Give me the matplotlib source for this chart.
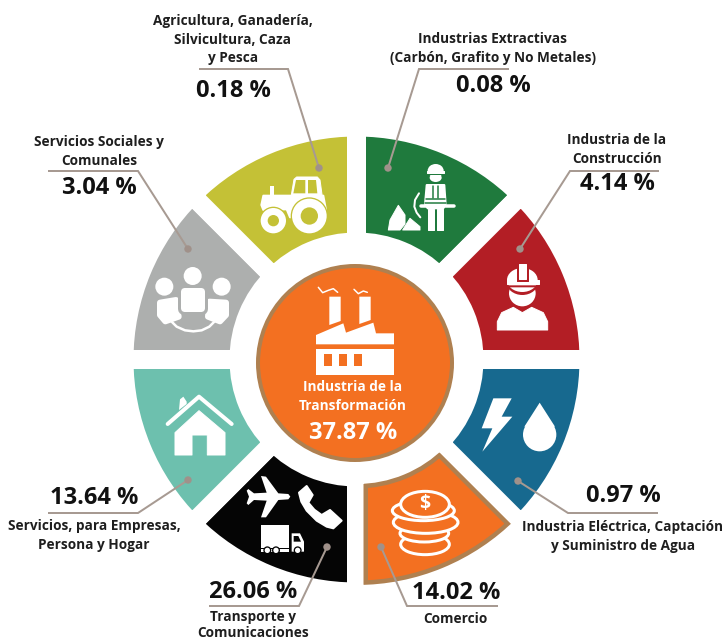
import matplotlib
matplotlib.use("Agg")
import matplotlib.pyplot as plt
from matplotlib.patches import Wedge, Circle, Ellipse, Polygon

plt.rcParams['font.family'] = ['Open Sans', 'DejaVu Sans']

# ---- data ----
categories = ["Industrias Extractivas\n(Carbón, Grafito y No Metales)",
              "Industria de la\nConstrucción",
              "Industria Eléctrica, Captación\ny Suministro de Agua",
              "Comercio",
              "Transporte y\nComunicaciones",
              "Servicios, para Empresas,\nPersona y Hogar",
              "Servicios Sociales y\nComunales",
              "Agricultura, Ganadería,\nSilvicultura, Caza\ny Pesca"]
shares = [0.08, 4.14, 0.97, 14.02, 26.06, 13.64, 3.04, 0.18]
center_category = "Industria de la\nTransformación"
center_share = 37.87
slice_weights = [1, 1, 1, 1, 1, 1, 1, 1]   # the ring is schematic: equal sectors

# ---- style ----
colors = ['#1F7A3D', '#B31E25', '#17698F', '#F37021', '#050505', '#6DC0AE', '#ADAFAE', '#C4C136']
BROWN = '#AF8050'
LEAD = '#A79A92'
DOT = '#A0918A'
TXT = '#1E1E1E'
W = 'white'

fig = plt.figure(figsize=(7.25, 6.43), dpi=100)
ax = fig.add_axes([0, 0, 1, 1])
px = 0.72  # points per pixel

CX, CY = 356.5, 359.5
R_OUT, R_W = 232.5, 115
wedges, _ = ax.pie(slice_weights, colors=colors, radius=R_OUT, center=(CX, CY),
                   startangle=-90, counterclock=True, frame=False,
                   wedgeprops=dict(width=R_W, edgecolor=W, linewidth=19 * px))
ax.set_xlim(0, 725)
ax.set_ylim(643, 0)
ax.set_aspect('auto')
ax.axis('off')

# commerce sector carries a brown inner outline
cw = wedges[3]
cw.set_edgecolor('none')
cw.set_zorder(2)
bw = Wedge(cw.center, cw.r, cw.theta1, cw.theta2, width=cw.width, fc='none', ec=BROWN,
           lw=23 * px, zorder=2.1)
ax.add_patch(bw)
bw.set_clip_path(cw)
ax.add_patch(Wedge(cw.center, cw.r, cw.theta1, cw.theta2, width=cw.width, fc='none', ec=W,
                   lw=14 * px, zorder=2.2))

# centre disc
ax.add_patch(Circle((355, 363), 97, fc='#F37021', ec=BROWN, lw=4 * px, zorder=3))


# ---- icon helpers (coordinates given in 3x crop frames) ----
def fr(o):
    return lambda x, y: (o[0] + x / 3, o[1] + y / 3)


def poly(o, pts, c=W, lw=0.0, z=4):
    f = fr(o)
    ax.add_patch(Polygon([f(*p) for p in pts], closed=True, fc=c, ec=c, lw=lw * px,
                         joinstyle='round', zorder=z))


def line(o, pts, c=W, lw=1.5, z=4):
    f = fr(o)
    xy = [f(*p) for p in pts]
    ax.plot([p[0] for p in xy], [p[1] for p in xy], color=c, lw=lw * px, zorder=z,
            solid_capstyle='round', solid_joinstyle='round')


def circ(o, x, y, r, c=W, z=4):
    f = fr(o)
    ax.add_patch(Circle(f(x, y), r / 3, fc=c, ec='none', zorder=z))


def ell(o, x, y, w, h, c=W, z=4, ec='none', lw=0):
    f = fr(o)
    ax.add_patch(Ellipse(f(x, y), w / 3, h / 3, fc=c, ec=ec, lw=lw * px, zorder=z))


Z1, Z2, Z3, Z4, Z5 = (130, 130), (355, 130), (130, 360), (355, 360), (250, 255)

# tractor
OL = colors[7]
poly(Z1, [(484, 195), (492, 148), (500, 141), (562, 141), (570, 150), (578, 208), (484, 208)], lw=1)
poly(Z1, [(490, 190), (498, 150), (526, 150), (526, 190)], OL)
poly(Z1, [(534, 150), (558, 150), (562, 190), (534, 190)], OL)
poly(Z1, [(420, 168), (431, 168), (431, 195), (420, 195)])
poly(Z1, [(400, 197), (580, 197), (588, 240), (480, 262), (470, 238), (400, 240), (394, 225)], lw=2)
circ(Z1, 538, 258, 56, OL, z=4.1)
circ(Z1, 538, 258, 52, z=4.2)
circ(Z1, 538, 258, 26, OL, z=4.3)
circ(Z1, 430, 272, 42, OL, z=4.1)
circ(Z1, 430, 272, 38, z=4.2)
circ(Z1, 430, 272, 17, OL, z=4.3)
poly(Z1, [(503, 174), (513, 174), (513, 177), (503, 177)], OL, z=4.4)

# people
GR = colors[6]
circ(Z1, 103, 470, 27)
circ(Z1, 188, 438, 27)
circ(Z1, 275, 470, 27)
poly(Z1, [(90, 518), (138, 510), (146, 560), (106, 574), (90, 555)], lw=6)
poly(Z1, [(238, 515), (288, 518), (288, 555), (270, 574), (234, 560)], lw=6)
poly(Z1, [(161, 482), (216, 482), (216, 536), (161, 536)], GR, lw=12, z=4.1)
poly(Z1, [(163, 484), (214, 484), (214, 534), (163, 534)], lw=7, z=4.2)
line(Z1, [(122, 572), (140, 590), (165, 601), (190, 604), (215, 601), (238, 590), (256, 572)], lw=2.5)

# miner
GN = colors[0]
ell(Z2, 242, 122, 48, 40)
poly(Z2, [(217, 122), (267, 122), (267, 130), (217, 130)], lw=1)
ell(Z2, 242, 143, 36, 26, z=4.05)
poly(Z2, [(216, 131), (268, 131), (268, 135), (216, 135)], GN, z=4.1)
poly(Z2, [(215, 165), (268, 165), (272, 222), (265, 235), (218, 235), (210, 222)], lw=2)
line(Z2, [(233, 168), (233, 205)], GN, 1.5, z=4.1)
line(Z2, [(250, 168), (250, 205)], GN, 1.5, z=4.1)
line(Z2, [(212, 208), (270, 208)], GN, 1.5, z=4.1)
line(Z2, [(210, 220), (272, 220)], GN, 1.5, z=4.1)
line(Z2, [(198, 228), (296, 228)], lw=3.5, z=4.2)
poly(Z2, [(218, 236), (238, 236), (238, 300), (218, 300)], lw=1)
poly(Z2, [(245, 236), (265, 236), (265, 300), (245, 300)], lw=1)
line(Z2, [(192, 190), (180, 210), (178, 230), (185, 248), (196, 262)], lw=2)
poly(Z2, [(100, 300), (105, 270), (130, 226), (150, 255), (150, 282), (135, 300)], lw=1)
poly(Z2, [(143, 300), (165, 265), (195, 290), (195, 300)], lw=1)

# hard hat worker
RD = colors[1]
ell(Z2, 502, 490, 80, 78)
poly(Z2, [(427, 600), (427, 575), (440, 548), (475, 532), (502, 548), (530, 532), (565, 548), (578, 575), (578, 600)], lw=1, z=4.05)
ell(Z2, 502, 455, 96, 80, RD, z=4.1)
ell(Z2, 502, 450, 92, 72, z=4.2)
poly(Z2, [(440, 466), (565, 466), (565, 495), (540, 472), (465, 472), (440, 495)], RD, z=4.3)
poly(Z2, [(455, 449), (552, 449), (552, 461), (455, 461)], lw=1, z=4.3)
poly(Z2, [(487, 402), (519, 402), (519, 452), (487, 452)], RD, lw=1, z=4.35)
poly(Z2, [(492, 402), (514, 402), (514, 447), (492, 447)], lw=1, z=4.4)

# bolt and drop
poly(Z4, [(415, 115), (470, 115), (440, 170), (472, 170), (382, 275), (412, 205), (380, 205)])
circ(Z4, 554, 224, 50)
poly(Z4, [(554, 128), (508, 200), (600, 200)])

# coins
for (x, y, w, h) in [(210, 553, 146, 62), (208, 520, 146, 52), (212, 487, 194, 66), (205, 452, 186, 60), (210, 433, 146, 78)]:
    ell(Z4, x, y, w, h, colors[3], z=4, ec=W, lw=3)
ax.text(355 + 210 / 3, 360 + 431 / 3, "$", color=W, fontsize=14, fontweight='bold',
        ha='center', va='center', zorder=5)

# house
line(Z3, [(113, 192), (207, 110), (305, 192)], lw=4)
poly(Z3, [(147, 150), (150, 118), (160, 110), (170, 125), (170, 132)])
poly(Z3, [(135, 218), (207, 152), (285, 218), (285, 285), (232, 285), (232, 225), (186, 225), (186, 285), (135, 285)], lw=1)

# plane
poly(Z3, [(393, 348), (408, 350), (445, 400), (475, 402), (481, 410), (475, 418), (445, 420), (408, 472), (393, 472),
          (410, 422), (372, 420), (355, 435), (350, 430), (357, 410), (350, 392), (355, 387), (372, 400), (410, 398)])
# phone
poly(Z3, [(507, 398), (530, 378), (548, 405), (535, 428), (553, 449), (575, 465), (600, 450), (635, 482), (610, 505),
          (590, 500), (560, 482), (530, 452), (514, 425)], lw=2)
# truck
poly(Z3, [(393, 495), (478, 495), (478, 565), (393, 565)])
poly(Z3, [(485, 520), (510, 520), (522, 545), (522, 575), (485, 575)])
poly(Z3, [(491, 528), (505, 528), (513, 545), (491, 545)], colors[4], z=4.1)
poly(Z3, [(393, 568), (478, 568), (478, 575), (393, 575)])
for x in (412, 438, 503):
    circ(Z3, x, 571, 12, colors[4], z=4.2)
    circ(Z3, x, 571, 8, z=4.3)

# factory
poly(Z5, [(238, 125), (272, 125), (272, 198), (238, 210)], z=5)
poly(Z5, [(328, 125), (362, 125), (362, 195), (328, 207)], z=5)
poly(Z5, [(198, 240), (280, 205), (288, 233), (370, 203), (378, 235), (432, 235), (432, 268), (198, 268)], z=5)
poly(Z5, [(198, 282), (432, 282), (432, 360), (198, 360)], z=5)
for x0 in (222, 267, 311):
    poly(Z5, [(x0, 296), (x0 + 25, 296), (x0 + 25, 333), (x0, 333)], '#F37021', z=5.1)
line(Z5, [(205, 97), (218, 113), (235, 106), (250, 101), (263, 112)], lw=1.5, z=5)
line(Z5, [(312, 103), (325, 116), (340, 108), (352, 112)], lw=1.5, z=5)

# ---- leaders: dot, elbow, end, in pixels ----
leaders = [
    [(388, 168), (419, 69), (508, 69)],
    [(520, 249), (570, 171), (658, 171)],
    [(518, 481), (568, 513), (657, 513)],
    [(381, 547), (407, 606), (497, 606)],
    [(327, 547), (299, 606), (210, 606)],
    [(188, 480), (138, 513), (49, 513)],
    [(188, 249), (138, 171), (49, 171)],
    [(319, 168), (288, 69), (200, 69)],
]
for pts in leaders:
    ax.plot([p[0] for p in pts], [p[1] for p in pts], color=LEAD, lw=2 * px, zorder=6,
            solid_joinstyle='miter')
    ax.add_patch(Circle(pts[0], 3.7, fc=DOT, ec='none', zorder=6.1))

# ---- labels ----
FS_L, FS_V = 9.8, 17
label_gap = [18.7, 18.7, 18.7, 18.7, 16, 18.7, 18.7, 18.7]
label_pos = [(493, 39), (617, 140), (623, 527), (455, 619), (253, 617), (94, 526), (99, 142), (233, 21)]
value_pos = [(493, 86), (617, 184), (623, 496), (456, 593), (253, 592), (94, 498), (99, 188), (233, 91)]
for i, (cat, val) in enumerate(zip(categories, shares)):
    x, y = label_pos[i]
    for j, ln in enumerate(cat.split("\n")):
        ax.text(x, y + j * label_gap[i], ln, fontsize=FS_L, fontweight='bold', color=TXT,
                ha='center', va='center', zorder=7)
    ax.text(*value_pos[i], f"{val:.2f} %", fontsize=FS_V, fontweight='bold', color='#111111',
            ha='center', va='center', zorder=7)

for j, ln in enumerate(center_category.split("\n")):
    ax.text(353, 387 + j * 19, ln, fontsize=FS_L, fontweight='bold', color=W, ha='center', va='center', zorder=7)
ax.text(353, 433, f"{center_share:.2f} %", fontsize=FS_V, fontweight='bold', color=W, ha='center', va='center', zorder=7)

fig.savefig("out.png", dpi=100)
